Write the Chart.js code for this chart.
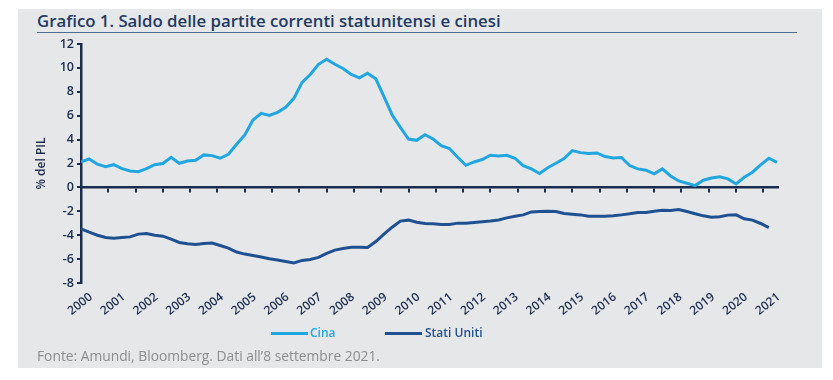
<!DOCTYPE html>
<html><head><meta charset="utf-8">
<script src="https://cdn.jsdelivr.net/npm/chart.js@4.4.0/dist/chart.umd.min.js"></script>
<style>
html,body{margin:0;padding:0;background:#fff;width:833px;height:380px;overflow:hidden;font-family:"Open Sans",sans-serif}
#panel{position:absolute;left:18px;top:9px;width:804px;height:359px;background:#e6e7e9}
#title{position:absolute;left:37px;top:12px;font-weight:600;font-size:16.8px;line-height:17px;color:#1f3a63;white-space:nowrap}
#rule{position:absolute;left:37px;top:32px;width:760px;height:0;border-top:1.5px solid #4d6d93}
#wrap{position:absolute;left:0;top:0;width:833px;height:330px}
.lg-line{position:absolute;height:3px;top:332px}
.lg-text{position:absolute;top:327px;font-size:12px;line-height:12px;font-weight:600;white-space:nowrap}
#source{position:absolute;left:37px;top:349px;font-size:13.8px;line-height:14px;color:#8c8c8c;white-space:nowrap}
</style>
</head><body>
<div id="panel"></div>
<div id="title">Grafico 1. Saldo delle partite correnti statunitensi e cinesi</div>
<div id="rule"></div>
<div id="wrap"><canvas id="c" width="833" height="330"></canvas></div>
<div id="legend"></div>
<div id="source">Fonte: Amundi, Bloomberg. Dati all’8 settembre 2021.</div>
<script>
// ---- data (quarterly, % of GDP) ----
const years = [2000,2001,2002,2003,2004,2005,2006,2007,2008,2009,2010,2011,2012,2013,2014,2015,2016,2017,2018,2019,2020,2021];
const quarters = [];
years.forEach(y => { for (let q = 1; q <= 4; q++) quarters.push(y + '-T' + q); });
const seriesNames = ['Cina', 'Stati Uniti'];
const cina = [
  2.15, 2.38, 1.94, 1.74, 1.90, 1.57, 1.38, 1.32, 1.57, 1.90,
  2.00, 2.52, 2.02, 2.21, 2.27, 2.72, 2.66, 2.44, 2.77, 3.61,
  4.39, 5.64, 6.20, 6.03, 6.28, 6.70, 7.45, 8.79, 9.45, 10.30,
  10.73, 10.30, 9.95, 9.45, 9.17, 9.56, 9.09, 7.60, 6.06, 5.03,
  4.05, 3.94, 4.41, 4.05, 3.50, 3.25, 2.52, 1.85, 2.13, 2.33,
  2.69, 2.63, 2.69, 2.44, 1.82, 1.55, 1.16, 1.65, 2.02, 2.41,
  3.08, 2.91, 2.83, 2.88, 2.58, 2.46, 2.50, 1.83, 1.55, 1.44,
  1.13, 1.55, 0.96, 0.54, 0.35, 0.15, 0.60, 0.79, 0.88, 0.71,
  0.29, 0.85, 1.27, 1.88, 2.44, 2.10
];
const statiUniti = [
  -3.47, -3.75, -4.00, -4.19, -4.25, -4.19, -4.14, -3.91, -3.86, -4.00,
  -4.08, -4.33, -4.61, -4.72, -4.78, -4.69, -4.66, -4.86, -5.08, -5.41,
  -5.58, -5.70, -5.83, -5.97, -6.08, -6.20, -6.33, -6.11, -6.03, -5.86,
  -5.53, -5.25, -5.11, -5.00, -5.00, -5.03, -4.53, -3.91, -3.33, -2.82,
  -2.74, -2.91, -3.02, -3.05, -3.10, -3.10, -2.99, -2.99, -2.94, -2.88,
  -2.82, -2.72, -2.55, -2.41, -2.30, -2.05, -2.02, -1.99, -2.02, -2.19,
  -2.24, -2.30, -2.41, -2.41, -2.41, -2.38, -2.30, -2.21, -2.10, -2.10,
  -1.99, -1.91, -1.94, -1.85, -2.02, -2.21, -2.38, -2.49, -2.46, -2.32,
  -2.30, -2.63, -2.74, -3.02, -3.36
];
const yTicks = [12, 10, 8, 6, 4, 2, 0, -2, -4, -6, -8];

// ---- styling ----
const NAVY = '#1b2d4f';
const colors = ['#22a6e0', '#1f5192'];
const qToX = s => { const [y, q] = s.split('-T'); return Number(y) + (Number(q) - 1) / 4; };
const toPts = arr => arr.map((v, i) => ({x: qToX(quarters[i]), y: v}));
const X_MIN = 2000, X_MAX = 2021.28;

// legend (HTML)
const lg = document.getElementById('legend');
const lgPos = [[271, 310], [385, 425]];
seriesNames.forEach((n, i) => {
  const l = document.createElement('div'); l.className = 'lg-line';
  l.style.left = lgPos[i][0] + 'px'; l.style.width = '37px'; l.style.background = colors[i];
  const t = document.createElement('div'); t.className = 'lg-text';
  t.style.left = lgPos[i][1] + 'px'; t.style.color = colors[i]; t.textContent = n;
  lg.appendChild(l); lg.appendChild(t);
});

Chart.defaults.font.family = "'Open Sans', sans-serif";
new Chart(document.getElementById('c'), {
  type: 'line',
  data: {
    datasets: [
      {label: seriesNames[0], data: toPts(cina), borderColor: colors[0], borderWidth: 3, pointRadius: 0, tension: 0, xAxisID: 'x', yAxisID: 'y'},
      {label: seriesNames[1], data: toPts(statiUniti), borderColor: colors[1], borderWidth: 3, pointRadius: 0, tension: 0, xAxisID: 'x', yAxisID: 'y'}
    ]
  },
  options: {
    responsive: false,
    animation: false,
    devicePixelRatio: 1,
    layout: {padding: {left: 21, top: 44, right: 55, bottom: 0}},
    plugins: {legend: {display: false}, tooltip: {enabled: false}},
    scales: {
      x: {
        type: 'linear', position: 'bottom', min: X_MIN, max: X_MAX,
        afterBuildTicks: s => { s.ticks = years.map(v => ({value: v})); },
        afterFit: s => { s.height = 47; },
        grid: {display: false, drawTicks: false},
        border: {display: false},
        ticks: {autoSkip: false, minRotation: 38, maxRotation: 38, padding: 7, labelOffset: 10, color: NAVY,
          font: {size: 12, weight: '600'}, callback: v => String(v)}
      },
      x2: {
        type: 'linear', axis: 'x', position: {y: 0}, min: X_MIN, max: X_MAX,
        afterBuildTicks: s => { const t = []; for (let k = 1; k <= 25; k++) t.push({value: 2000 + k * 10 / 12}); s.ticks = t; },
        grid: {drawOnChartArea: false, drawTicks: true, tickLength: 4, lineWidth: 2, color: NAVY},
        border: {display: true, color: NAVY, width: 2.5},
        ticks: {display: false}
      },
      y: {
        type: 'linear', position: 'left', min: -8, max: 12,
        afterBuildTicks: s => { s.ticks = yTicks.map(v => ({value: v})); },
        afterFit: s => { s.width = 60; },
        grid: {drawOnChartArea: false, drawTicks: true, tickLength: 4, lineWidth: 2, color: NAVY},
        border: {display: true, color: NAVY, width: 2.5},
        ticks: {padding: 3, color: NAVY, font: {size: 12.5, weight: '600'}},
        title: {display: true, text: '% del PIL', color: NAVY, font: {size: 12, weight: '600'}, padding: {top: 13, bottom: 4}}
      }
    }
  }
});
</script>
</body></html>
